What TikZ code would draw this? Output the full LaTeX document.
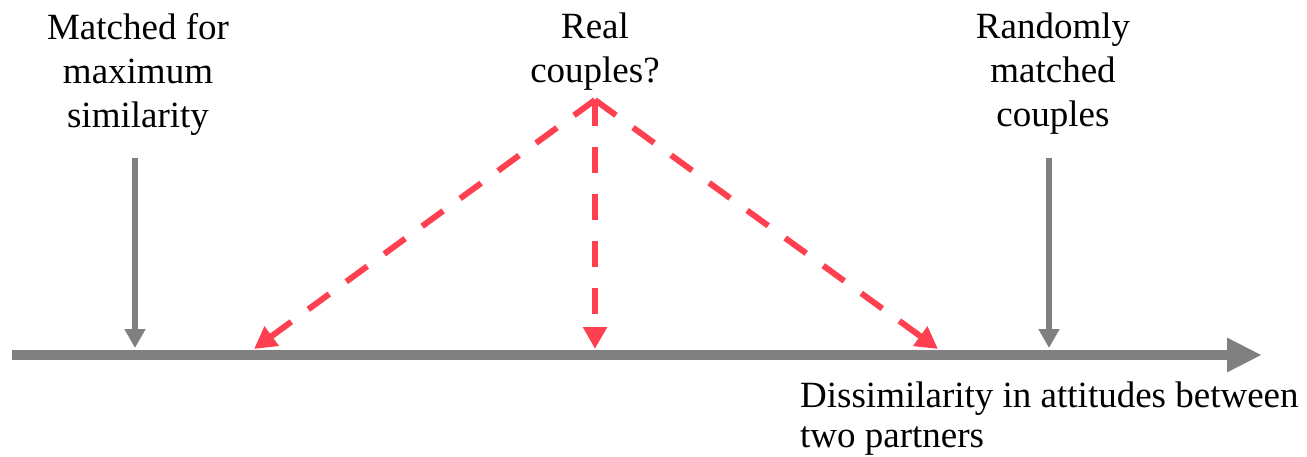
\documentclass[tikz,border=0pt]{standalone}
\usepackage{fontspec}
\setmainfont{Liberation Serif}
\usetikzlibrary{arrows.meta}
\definecolor{axisgrey}{HTML}{808080}
\definecolor{dashred}{HTML}{FF4050}
\begin{document}
\begin{tikzpicture}[x=1pt,y=-1pt,
  lbl/.style={inner sep=0pt,align=center,font=\fontsize{37}{44}\selectfont},
  axisline/.style={draw=axisgrey,line width=10pt,-{Triangle[length=35pt,width=32pt]}},
  greyarrow/.style={draw=axisgrey,line width=6pt,-{Triangle[length=19pt,width=20pt]}},
  redarrow/.style={draw=dashred,line width=6pt,dash pattern=on 26pt off 21pt,-{Triangle[length=22pt,width=23pt]}}]
\useasboundingbox (0,0) rectangle (1307,457);
% labels
\node[lbl,anchor=north] (tl) at (138,13) {Matched for\\maximum\\similarity};
\node[lbl,anchor=north] (tm) at (595,13) {Real\\couples?};
\node[lbl,anchor=north] (tr) at (1053,13) {Randomly\\matched\\couples};
\node[inner sep=0pt,align=left,anchor=north west,font=\fontsize{37}{40}\selectfont] (bl) at (800,382) {Dissimilarity in attitudes between\\two partners};
% coordinates
\coordinate (axL) at (12,355);
\coordinate (axR) at (1262,355);
\coordinate (gl0) at (135,158);
\coordinate (gl1) at (135,348);
\coordinate (gr0) at (1049,158);
\coordinate (gr1) at (1049,348);
\coordinate (apex) at (595,100);
\coordinate (rl) at (254,349);
\coordinate (rm) at (595,349);
\coordinate (rr) at (938,349);
% axis
\draw[axisline] (axL) -- (axR);
\draw[greyarrow] (gl0) -- (gl1);
\draw[greyarrow] (gr0) -- (gr1);
% red dashed
\draw[redarrow] (apex) -- (rl);
\draw[redarrow] (apex) -- (rm);
\draw[redarrow] (apex) -- (rr);
\end{tikzpicture}
\end{document}
